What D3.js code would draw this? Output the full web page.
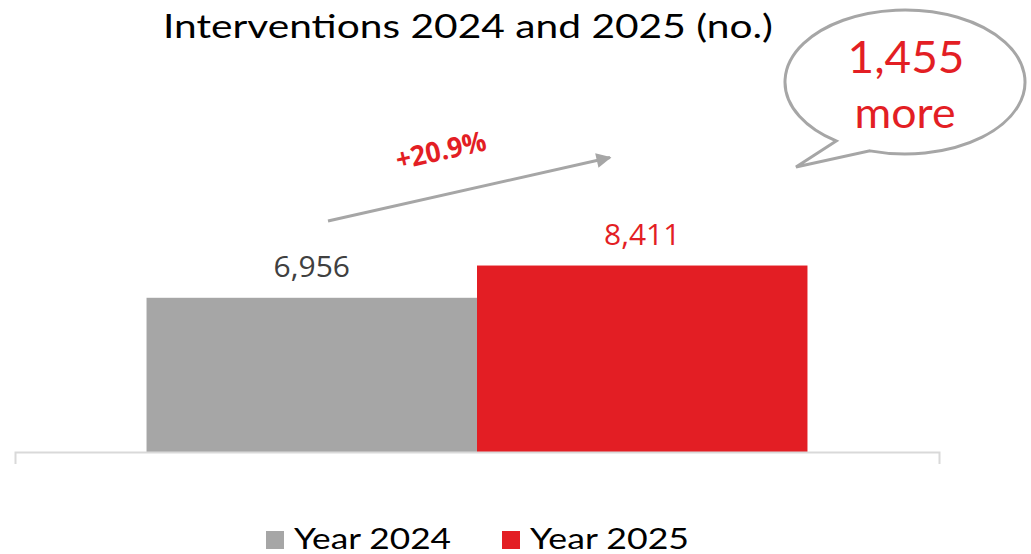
<!DOCTYPE html>
<html><head><meta charset="utf-8">
<script src="https://cdn.jsdelivr.net/npm/d3@7"></script>
<style>body{margin:0;background:#fff}svg{display:block}</style>
</head><body>
<script>
const categories = ["Interventions"];
const seriesNames = ["Year 2024", "Year 2025"];
const values2024 = [6956];
const values2025 = [8411];
const growthLabel = "+20.9%";
const bubbleLines = ["1,455", "more"];
const titleText = "Interventions 2024 and 2025 (no.)";

const W = 1031, H = 554;
const colors = {"Year 2024": "#a6a6a6", "Year 2025": "#e31e24"};
const labelColors = {"Year 2024": "#404040", "Year 2025": "#e31e24"};
const svg = d3.select("body").append("svg").attr("width", W).attr("height", H);

const x0 = d3.scaleBand().domain(categories).range([15, 939]).paddingInner(0).paddingOuter(0.199);
const x1 = d3.scaleBand().domain(seriesNames).range([0, x0.bandwidth()]).padding(0);
const y = d3.scaleLinear().domain([0, 10000]).range([452, 230.3]);

const data = categories.map((c, i) => ({cat: c, vals: [
  {s: "Year 2024", v: values2024[i]}, {s: "Year 2025", v: values2025[i]}]}));

// title
svg.append("text").attr("x", 468).attr("y", 38).attr("text-anchor", "middle")
  .attr("font-family", "Lato, 'DejaVu Sans', sans-serif").attr("font-size", 33)
  .attr("textLength", 610).attr("lengthAdjust", "spacingAndGlyphs")
  .attr("fill", "#000").text(titleText);

// bars
const g = svg.append("g").selectAll("g").data(data).join("g")
  .attr("transform", d => `translate(${x0(d.cat)},0)`);
g.selectAll("rect").data(d => d.vals).join("rect")
  .attr("x", d => x1(d.s)).attr("width", x1.bandwidth())
  .attr("y", d => y(d.v)).attr("height", d => y(0) - y(d.v))
  .attr("fill", d => colors[d.s]);
g.selectAll("text.lbl").data(d => d.vals).join("text").attr("class", "lbl")
  .attr("x", d => x1(d.s) + x1.bandwidth() / 2).attr("y", d => y(d.v) - 21)
  .attr("text-anchor", "middle").attr("font-family", "'Open Sans', sans-serif")
  .attr("font-size", 30).attr("fill", d => labelColors[d.s])
  .text(d => d3.format(",")(d.v));

// axis
const axisG = svg.append("g").attr("transform", `translate(0,${y(0)})`)
  .call(d3.axisBottom(x0).tickValues([]).tickSizeOuter(12));
axisG.select(".domain").attr("stroke", "#d9d9d9").attr("stroke-width", 2);
axisG.selectAll("text").remove();

// growth arrow
const defs = svg.append("defs");
defs.append("marker").attr("id", "ah").attr("viewBox", "0 0 10 10").attr("refX", 9).attr("refY", 5)
  .attr("markerWidth", 6).attr("markerHeight", 5).attr("markerUnits", "strokeWidth").attr("orient", "auto")
  .append("path").attr("d", "M0,0 L10,5 L0,10 Z").attr("fill", "#a6a6a6");
const ax1 = 328, ay1 = 221, ax2 = 612, ay2 = 157;
svg.append("line").attr("x1", ax1).attr("y1", ay1).attr("x2", ax2 - 2).attr("y2", ay2 + 0.5)
  .attr("stroke", "#a6a6a6").attr("stroke-width", 3).attr("marker-end", "url(#ah)");
const ang = Math.atan2(ay2 - ay1, ax2 - ax1) * 180 / Math.PI;
svg.append("text").attr("transform", `translate(443,160) rotate(${ang})`)
  .attr("text-anchor", "middle").attr("font-family", "'Open Sans', sans-serif")
  .attr("font-weight", "bold").attr("font-size", 28).attr("fill", "#e31e24")
  .attr("textLength", 92).attr("lengthAdjust", "spacingAndGlyphs").text(growthLabel);

// speech bubble
const cx = 905, cy = 82, rx = 120, ry = 72;
const ptAt = a => [cx + rx * Math.cos(a * Math.PI / 180), cy + ry * Math.sin(a * Math.PI / 180)];
const pA = ptAt(125), pB = ptAt(107);
const bubblePath = `M${pA[0]},${pA[1]} L796,167 L${pB[0]},${pB[1]} A${rx},${ry} 0 1 0 ${pA[0]},${pA[1]} Z`;
svg.append("path").attr("d", bubblePath).attr("fill", "#fff").attr("stroke", "#a6a6a6")
  .attr("stroke-width", 3).attr("stroke-linejoin", "miter");
svg.append("text").attr("x", 906).attr("y", 73).attr("text-anchor", "middle")
  .attr("font-family", "Lato, sans-serif").attr("font-size", 45).attr("fill", "#e31e24")
  .attr("textLength", 117).attr("lengthAdjust", "spacingAndGlyphs").text(bubbleLines[0]);
svg.append("text").attr("x", 905).attr("y", 128).attr("text-anchor", "middle")
  .attr("font-family", "Lato, sans-serif").attr("font-size", 42).attr("fill", "#e31e24")
  .attr("textLength", 101).attr("lengthAdjust", "spacingAndGlyphs").text(bubbleLines[1]);

// legend
const legX = [266, 502];
const legW = [157, 159];
seriesNames.forEach((s, i) => {
  svg.append("rect").attr("x", legX[i]).attr("y", 531).attr("width", 18).attr("height", 18).attr("fill", colors[s]);
  svg.append("text").attr("x", legX[i] + 28).attr("y", 549).attr("font-family", "Lato, sans-serif")
    .attr("font-size", 28).attr("fill", "#000").attr("textLength", legW[i]).attr("lengthAdjust", "spacingAndGlyphs").text(s);
});
</script>
</body></html>
